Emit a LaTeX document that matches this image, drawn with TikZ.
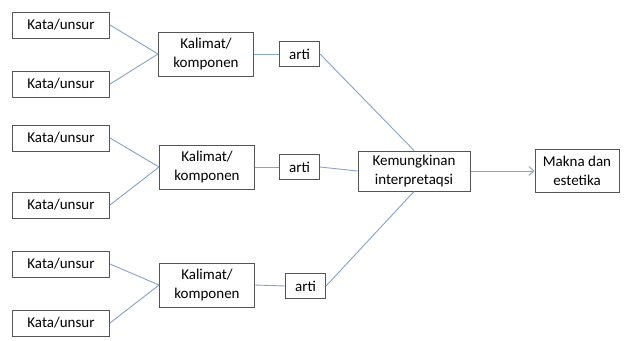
\documentclass[tikz,border=0pt]{standalone}
\usepackage{fontspec}
\setmainfont{Carlito}
\usepackage{tikz}
\usetikzlibrary{arrows.meta, positioning}
\usepackage{xcolor}
\definecolor{linkBlue}{HTML}{86A3C8}
\definecolor{boxGray}{HTML}{555555}

\begin{document}
\begin{tikzpicture}[
    x=1pt, y=-1pt,
    box/.style={rectangle, draw=boxGray, line width=1pt, fill=white, align=center, inner sep=0pt, font=\fontsize{15}{19}\selectfont},
    kata/.style={box, minimum width=97pt, minimum height=26pt},
    kalimat/.style={box, minimum width=95pt, minimum height=44pt},
    arti/.style={box, minimum width=40pt, minimum height=25pt},
    link/.style={draw=linkBlue, line width=0.9pt},
    arrow/.style={link, -{Straight Barb[length=5pt, width=9pt]}},
]
    \useasboundingbox[fill=white] (0,0) rectangle (628,340);

    % Kata/unsur
    \node[kata] (kata1) at (61,25) {Kata/unsur};
    \node[kata] (kata2) at (61,84) {Kata/unsur};
    \node[kata] (kata3) at (61,138) {Kata/unsur};
    \node[kata] (kata4) at (61,205) {Kata/unsur};
    \node[kata] (kata5) at (61,264) {Kata/unsur};
    \node[kata] (kata6) at (61,323) {Kata/unsur};

    % Kalimat/komponen
    \node[kalimat] (kal1) at (206,54) {Kalimat/\\komponen};
    \node[kalimat] (kal2) at (207,167) {Kalimat/\\komponen};
    \node[kalimat] (kal3) at (207,285) {Kalimat/\\komponen};

    % arti
    \node[arti, right=25pt of kal1] (arti1) {arti};
    \node[arti, right=24pt of kal2] (arti2) {arti};
    \node[arti, right=30pt of kal3, yshift=-1pt] (arti3) {arti};

    % Interpretasi dan makna
    \node[box, minimum width=112pt, minimum height=40pt] (interp) at (414,171) {Kemungkinan\\interpretaqsi};
    \node[box, minimum width=84pt, minimum height=43pt, right=64pt of interp] (makna) {Makna dan\\estetika};

    % Connectors
    \draw[link] (kata1.east) -- (kal1.west);
    \draw[link] (kata2.east) -- (kal1.west);
    \draw[link] (kata3.east) -- (kal2.west);
    \draw[link] (kata4.east) -- (kal2.west);
    \draw[link] (kata5.east) -- (kal3.west);
    \draw[link] (kata6.east) -- (kal3.west);
    \draw[link] (kal1) -- (arti1);
    \draw[link] (kal2) -- (arti2);
    \draw[link] (kal3.east) -- (arti3.west);
    \draw[link] (arti1.east) -- (interp.north);
    \draw[link] (arti2.east) -- (interp.west);
    \draw[link] (arti3.east) -- (interp.south);
    \draw[arrow] (interp) -- (makna);
\end{tikzpicture}
\end{document}
